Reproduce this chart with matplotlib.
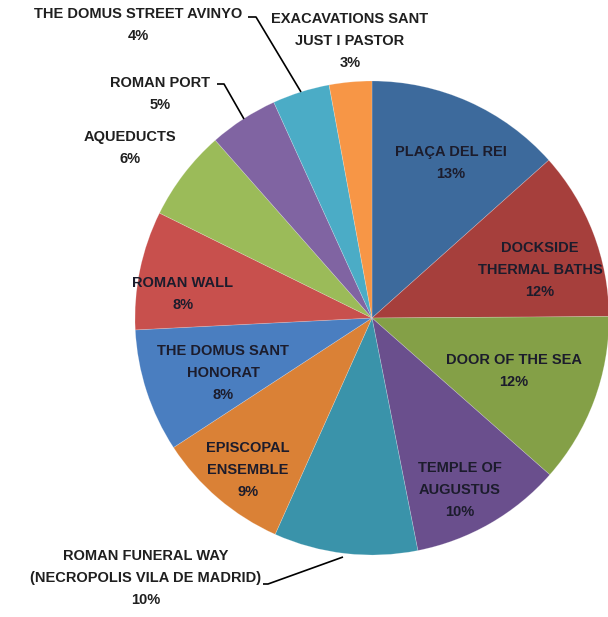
import matplotlib
matplotlib.use("Agg")
import matplotlib.pyplot as plt
from matplotlib import font_manager

names = ["PLAÇA DEL REI", "DOCKSIDE\nTHERMAL BATHS", "DOOR OF THE SEA", "TEMPLE OF\nAUGUSTUS",
         "ROMAN FUNERAL WAY\n(NECROPOLIS VILA DE MADRID)", "EPISCOPAL\nENSEMBLE",
         "THE DOMUS SANT\nHONORAT", "ROMAN WALL", "AQUEDUCTS", "ROMAN PORT",
         "THE DOMUS STREET AVINYO", "EXACAVATIONS SANT\nJUST I PASTOR"]
shares = [13.4, 11.5, 11.6, 10.4, 9.8, 9.1, 8.4, 8.1, 6.2, 4.7, 3.9, 2.9]

colors = ["#3D6A9C", "#A63F3C", "#84A047", "#6A4F8D", "#3A93AA", "#DA8136",
          "#4A7EC0", "#C8504D", "#9BBB59", "#8064A2", "#4BACC6", "#F79646"]

# label layout (pixel coords, top-left origin)
label_pos = [(451, 163), (540, 270), (514, 371), (460, 490), (146, 578), (248, 470),
             (223, 373), (183, 294), (130, 148), (160, 94), (138, 25), (350, 41)]
leaders = {4: [(263, 584), (268, 584), (343, 557)],
           9: [(217, 84), (224, 84), (244, 119)],
           10: [(248, 17), (256, 17), (301, 92)]}

fams = [f.name for f in font_manager.fontManager.ttflist]
font = "Liberation Sans Narrow" if "Liberation Sans Narrow" in fams else "Liberation Sans"

W, H = 608, 617
fig = plt.figure(figsize=(W / 100, H / 100), dpi=100)
ax = fig.add_axes([0, 0, 1, 1])

ax.pie(shares, colors=colors, startangle=90, counterclock=False,
       center=(372, H - 318), radius=237, frame=True,
       wedgeprops=dict(linewidth=0.5, edgecolor=(1, 1, 1, 0.25)))
ax.set_xlim(0, W)
ax.set_ylim(0, H)
ax.set_aspect("equal")
ax.axis("off")

total = sum(shares)
for i, (nm, v) in enumerate(zip(names, shares)):
    px, py = label_pos[i]
    pct = f"{round(v / total * 100)}%"
    outside = i in (4, 8, 9, 10, 11)
    col = "#1f1f1f" if outside else "#1c1c2c"
    ax.text(px, H - py, nm + "\n" + pct, ha="center", va="center", fontsize=10.5,
            family=font, fontweight="bold", color=col, linespacing=1.75)

for pts in leaders.values():
    xs = [p[0] for p in pts]
    ys = [H - p[1] for p in pts]
    ax.plot(xs, ys, color="black", lw=1.2, solid_capstyle="butt")

fig.savefig("out.png", dpi=100, facecolor="white")
